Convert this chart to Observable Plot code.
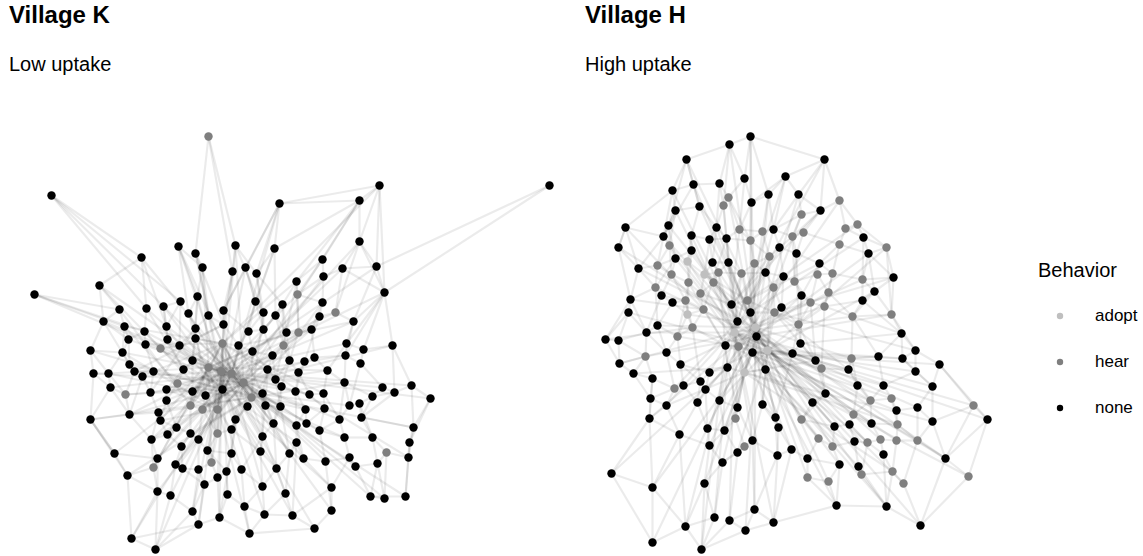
<!DOCTYPE html>
<html><head><meta charset="utf-8">
<script src="https://cdn.jsdelivr.net/npm/d3@7"></script>
<script src="https://cdn.jsdelivr.net/npm/@observablehq/plot@0.6"></script>
<style>
body{margin:0;background:#fff;font-family:"Liberation Sans",Arial,sans-serif;}
#wrap{position:relative;width:1143px;height:556px;overflow:hidden;background:#fff}
.t{position:absolute;font-weight:bold;font-size:24px;line-height:1;color:#000;white-space:nowrap}
.s{position:absolute;font-size:20px;line-height:1;color:#000;white-space:nowrap}
.panel{position:absolute;top:100px}
.lt{position:absolute;font-size:20px;line-height:1;color:#000;left:1038px;top:260px}
.li{position:absolute;left:1054px;height:14px;display:flex;align-items:center}
.li span{font-size:17px;margin-left:29px;color:#000}
</style></head><body>
<div id="wrap">
  <div class="t" style="left:9px;top:3px">Village K</div>
  <div class="s" style="left:9px;top:54px">Low uptake</div>
  <div class="t" style="left:585px;top:3px">Village H</div>
  <div class="s" style="left:585px;top:54px">High uptake</div>
  <div id="pk" class="panel" style="left:0px"></div>
  <div id="ph" class="panel" style="left:575px"></div>
  <div class="lt">Behavior</div>
  <div id="legend"></div>
</div>
<script>
// Behaviour categories and colours
const behaviors = ["adopt", "hear", "none"];
const behaviorColors = ["#bfbfbf", "#7f7f7f", "#000000"];

// Village K: node layout [x, y, behavior] (n = none, h = hear, a = adopt)
const kNodes = [
[208,136,"h"],[51,195,"n"],[279,203,"n"],[178,246,"n"],[195,253,"n"],[235,245,"n"],[274,248,"n"],[141,257,"n"],[202,267,"n"],[245,267,"n"],
[232,271,"n"],[256,273,"n"],[99,285,"n"],[34,294,"n"],[197,296,"n"],[180,301,"n"],[255,301,"n"],[282,304,"n"],[119,309,"n"],[146,308,"n"],
[163,306,"n"],[188,313,"n"],[208,315,"n"],[223,310,"n"],[263,312,"n"],[275,315,"n"],[103,321,"n"],[124,326,"n"],[166,326,"n"],[223,324,"n"],
[144,331,"n"],[195,328,"n"],[248,331,"n"],[263,329,"n"],[286,332,"n"],[128,339,"n"],[167,339,"n"],[195,338,"n"],[549,185,"n"],[379,185,"n"],
[359,200,"n"],[359,241,"n"],[322,259,"n"],[342,268,"n"],[376,266,"n"],[323,276,"n"],[296,281,"n"],[297,294,"h"],[384,292,"n"],[322,302,"n"],
[335,312,"h"],[319,316,"n"],[353,321,"n"],[298,332,"h"],[311,329,"n"],[90,350,"n"],[122,352,"n"],[145,344,"n"],[160,348,"h"],[179,345,"n"],
[222,343,"h"],[238,345,"n"],[252,351,"n"],[283,345,"h"],[272,355,"n"],[289,360,"n"],[93,373,"n"],[108,373,"n"],[129,364,"n"],[134,371,"n"],
[153,371,"n"],[142,376,"n"],[192,360,"n"],[183,369,"n"],[208,367,"h"],[221,371,"h"],[231,373,"h"],[267,369,"n"],[275,379,"n"],[281,386,"n"],
[177,383,"h"],[243,382,"h"],[110,387,"n"],[125,394,"h"],[150,392,"n"],[166,389,"n"],[192,391,"n"],[205,395,"n"],[222,389,"n"],[262,393,"n"],
[251,397,"h"],[166,400,"n"],[190,405,"h"],[202,409,"h"],[217,409,"h"],[247,406,"n"],[265,405,"n"],[280,406,"n"],[90,419,"n"],[129,414,"n"],
[158,412,"n"],[160,420,"n"],[235,419,"n"],[273,423,"n"],[176,427,"n"],[231,429,"n"],[167,434,"n"],[190,433,"n"],[198,439,"n"],[217,433,"h"],
[151,439,"n"],[262,436,"n"],[181,446,"n"],[207,450,"n"],[231,453,"n"],[260,451,"n"],[289,453,"n"],[114,453,"n"],[157,458,"n"],[153,467,"h"],
[211,462,"h"],[175,464,"n"],[182,468,"n"],[198,469,"n"],[226,471,"n"],[241,469,"n"],[276,468,"n"],[127,475,"n"],[217,477,"n"],[204,484,"n"],
[262,486,"n"],[157,491,"n"],[170,495,"n"],[227,494,"n"],[285,493,"n"],[244,506,"n"],[192,511,"n"],[264,514,"n"],[219,517,"n"],[198,524,"n"],
[249,533,"n"],[131,538,"n"],[155,549,"n"],[346,343,"n"],[363,349,"n"],[392,345,"n"],[304,361,"n"],[314,357,"n"],[345,355,"n"],[360,363,"n"],
[327,370,"n"],[298,372,"n"],[344,382,"n"],[382,387,"n"],[411,385,"n"],[394,392,"n"],[430,398,"n"],[295,391,"n"],[309,394,"n"],[323,393,"n"],
[372,396,"n"],[305,409,"n"],[324,408,"n"],[349,405,"n"],[359,403,"n"],[296,425,"n"],[306,423,"n"],[339,419,"n"],[361,417,"n"],[413,427,"n"],
[319,430,"n"],[344,437,"n"],[372,437,"n"],[409,442,"n"],[296,442,"n"],[386,452,"h"],[408,457,"n"],[303,458,"n"],[325,461,"n"],[349,457,"n"],
[355,466,"n"],[377,463,"n"],[331,487,"n"],[370,496,"n"],[384,498,"n"],[405,496,"n"],[331,510,"n"],[292,515,"n"],[314,528,"n"]
];

// Village K: ties (node: neighbours)
const kAdj = [
"0:4,5,10","1:7,19,15","2:6,9,40,11,23","3:8,14,21,60","4:8,22,29,75","5:10,11,24,81","6:11,16,25,76","7:12,19,28","8:14,22,74","9:16,23,33,88",
"10:23,29,60","11:24,33,17","12:18,26,58","13:18,27,30","14:21,31,72","15:20,28,59","16:24,32,76","17:25,34,46,63","18:26,27,57","19:28,30,73",
"20:28,36,74","21:31,37,75","22:29,31,81","23:29,32,88","24:32,33,90","25:33,34,63","26:35,55,68","27:35,56,80","28:36,59,76","29:37,60,61",
"30:35,57,75","31:37,59,87","32:33,61,62","33:64,81","34:53,65,78","35:56,68,74","36:59,73,88","37:72,60,94","38:48,44","39:40,41,44,48,2",
"40:41,42,46,6","41:43,44,48,50","42:45,47,60","43:45,48,50,76","44:48,52,43","45:47,49,81","46:47,53,63","47:49,53,75","48:52,143,144,148","49:51,54,90",
"50:51,52,74","51:54,146,81","52:143,148,61","53:54,65,88","54:147,63,94","55:66,67,56","56:67,68,76","57:58,70,60","58:59,73,88","59:72,74",
"60:61,74,75,76,81,92,109","61:62,76,89","62:64,77,90","63:64,65,81","64:77,78,75","65:78,79,151","66:67,82,98","67:82,83,74","68:69,71,88","69:70,83,81",
"70:71,84,60","71:84,99,75","72:73,86,75","73:80,85,90","74:75,76,86,87,92,120","75:76,88,93,94,102","76:81,88,90,95","77:78,89,96","78:79,97,88","79:97,103,157",
"80:85,91,76","81:89,90,95,105","82:83,98,99","83:99,84,88","84:85,100,81","85:86,91,94","86:87,92,90","87:93,94,109","88:94,102,109,113","89:96,103,111",
"90:95,102,105","91:101,104,76","92:93,107,75","93:108,109,81","94:109,105","95:102,111","96:97,103,115","97:103,116,74","98:117,99,127","99:100,110,88",
"100:101,110,75","101:104,106,60","102:105,114","103:111,116,126","104:106,107,88","105:109,114,115","106:110,112,74","107:108,112,90","108:113,123,76","109:113,120",
"110:118,119,81","111:115,125","112:121,122,88","113:114,120,124","114:124,125","115:126,130","116:126,134,174","117:118,127,98","118:119,131,76","119:127,131,60",
"120:123,128,75","121:122,132,81","122:123,129","123:129,136","124:128,133","125:130,135","126:130,134","127:141,131","128:129,138,88","129:136,139",
"130:137,135","131:132,141,142","132:136,142","133:135,138","134:137,187","135:137,140","136:139,142","137:140,187","138:139,140,75","139:141,142",
"140:188","141:142","143:144,148,150","144:145,149","145:154,155,48","146:147,151,157","147:150,148","148:149,152","149:153,163","150:152,159,81",
"151:157,158","152:160,163,167","153:155,160","154:156,155,169","155:160,168","156:169,173","157:158,161,165","158:159,162","159:162,167","160:164,168",
"161:165,166,88","162:166,170","163:164,167","164:168,172","165:174,177","166:170,76","167:171,170","168:172,169","169:173,176","170:171,178",
"171:172,179","172:175,181","173:176,185","174:177,187","175:176,181,184","176:185","177:178,182","178:179,186","179:180,182","180:181,183",
"181:183,184","182:186,187","183:184,185","186:188","187:188"
];
const kCross = "12-75 26-76 55-88 66-81 98-90 117-75 141-88 142-76 131-81 139-60 140-74 188-75 187-88 186-76 183-81 185-90 176-60 169-88 156-76 154-75 145-81 153-76 44-75 41-88 39-60 2-76 5-88 3-75 7-81 1-76 13-74 40-81 17-88 34-74 48-75 52-76 79-74 116-60 126-74 134-81 137-88 130-60 125-74 115-88 111-75 103-76 97-81 60-88 74-81 75-90 76-87 22-88 29-76 31-81 14-88 37-76 59-81 72-88 86-81 73-60 85-75 80-90 92-81 27-60 30-87 56-94 57-92 67-86 69-29 82-76 84-31 99-62 100-90 101-94 104-81 106-61 110-75 118-88 119-74 121-94 127-90 132-76 133-60 136-75 138-81 143-75 146-88 148-76 150-74 152-90 157-81 158-75 159-60 161-76 163-88 165-81 167-74 170-75 171-90 174-88 177-76 178-81 180-75 182-88 184-76";

// Village H: node layout [x, y, behavior]
const hNodes = [
[750,136,"n"],[729,144,"n"],[686,159,"n"],[824,159,"n"],[785,176,"n"],[693,184,"n"],[719,183,"n"],[744,178,"n"],[672,190,"n"],[768,194,"n"],
[798,194,"n"],[728,197,"h"],[723,205,"h"],[751,202,"n"],[699,206,"n"],[675,210,"n"],[839,200,"h"],[820,210,"n"],[801,214,"h"],[625,227,"n"],
[668,225,"n"],[716,227,"n"],[739,229,"h"],[762,231,"h"],[773,229,"n"],[803,232,"h"],[845,228,"h"],[857,224,"h"],[663,236,"n"],[691,235,"n"],
[709,239,"n"],[726,238,"n"],[750,240,"h"],[792,236,"h"],[863,237,"n"],[618,247,"n"],[669,245,"h"],[691,250,"n"],[779,247,"n"],[796,253,"n"],
[839,244,"h"],[886,247,"h"],[868,253,"n"],[769,256,"h"],[675,258,"n"],[687,261,"a"],[712,262,"n"],[728,262,"n"],[754,263,"h"],[819,263,"n"],
[638,268,"n"],[657,265,"h"],[671,274,"h"],[704,274,"a"],[718,272,"h"],[741,273,"h"],[765,272,"n"],[783,276,"n"],[794,281,"h"],[817,274,"h"],
[832,273,"h"],[862,279,"h"],[893,277,"n"],[688,282,"h"],[655,287,"h"],[661,295,"n"],[700,293,"h"],[713,282,"h"],[773,287,"h"],[630,299,"n"],
[672,302,"n"],[685,300,"h"],[731,304,"n"],[747,300,"h"],[781,307,"n"],[801,295,"n"],[828,292,"h"],[874,291,"n"],[862,300,"n"],[810,302,"h"],
[824,306,"h"],[628,312,"n"],[687,314,"a"],[703,309,"h"],[750,312,"n"],[774,312,"h"],[891,314,"h"],[852,316,"h"],[657,325,"n"],[646,332,"n"],
[737,321,"n"],[734,332,"a"],[755,327,"a"],[756,336,"n"],[798,324,"h"],[901,333,"n"],[605,339,"n"],[618,340,"n"],[692,327,"h"],[677,336,"h"],
[666,352,"n"],[645,356,"h"],[619,363,"n"],[680,364,"n"],[725,345,"n"],[738,346,"h"],[752,352,"n"],[767,350,"a"],[792,353,"n"],[800,343,"n"],
[633,373,"n"],[652,378,"n"],[709,372,"n"],[727,367,"n"],[744,372,"a"],[765,369,"n"],[700,381,"n"],[674,388,"h"],[683,385,"n"],[705,389,"n"],
[650,398,"n"],[666,405,"n"],[697,402,"n"],[719,400,"n"],[737,407,"n"],[762,404,"n"],[649,418,"n"],[735,418,"h"],[775,417,"n"],[679,434,"n"],
[707,428,"n"],[724,430,"n"],[778,427,"n"],[709,445,"n"],[744,446,"h"],[752,440,"n"],[737,452,"n"],[791,449,"n"],[777,455,"n"],[722,462,"n"],
[611,473,"n"],[652,487,"n"],[704,483,"n"],[754,509,"n"],[714,517,"n"],[729,520,"n"],[773,522,"n"],[685,526,"n"],[745,530,"n"],[652,542,"n"],
[701,549,"n"],[815,360,"n"],[851,358,"h"],[878,356,"n"],[902,358,"n"],[915,350,"n"],[939,364,"n"],[821,368,"h"],[848,369,"n"],[915,371,"n"],
[857,385,"n"],[883,385,"n"],[932,386,"n"],[825,393,"n"],[870,400,"h"],[891,398,"h"],[812,402,"n"],[896,410,"n"],[917,407,"n"],[973,405,"h"],
[987,419,"n"],[853,414,"h"],[932,421,"n"],[801,419,"h"],[834,426,"n"],[849,424,"n"],[871,423,"n"],[897,424,"h"],[818,438,"h"],[832,446,"h"],
[854,441,"n"],[867,442,"h"],[880,439,"h"],[896,440,"h"],[917,440,"h"],[807,458,"n"],[883,454,"n"],[945,458,"n"],[839,464,"n"],[858,466,"n"],
[807,477,"h"],[828,481,"h"],[861,474,"h"],[892,471,"h"],[903,483,"h"],[968,476,"h"],[836,505,"n"],[886,506,"n"],[920,525,"n"]
];

// Village H: ties (node: neighbours)
const hAdj = [
"0:1,7,3,13,9","1:2,6,7,12","2:5,8,14,20","3:4,10,17,16","4:9,10,13,24","5:6,8,14,28","6:11,12,21","7:11,13,22","8:15,19,28","9:13,23,24",
"10:17,18,24","11:12,22,32","12:21,31,91","13:22,32,92","14:15,21,29","15:20,28,36","16:17,26,27","17:18,25,33","18:24,33,93","19:35,28,50",
"20:28,36,44","21:30,31,46","22:23,31,32","23:24,32,43","24:33,38,84","25:33,39,40","26:27,34,40","27:34,41","28:36,50,51","29:30,37,45",
"30:31,46,53","31:32,47,90","32:43,48,92","33:38,39,58","34:41,42,61","35:50,19,69","36:44,51,52","37:44,45,63","38:39,43,57","39:49,58,94",
"40:42,60,49","41:42,62,86","42:61,62,77","43:48,56,107","44:51,52,64","45:53,63,91","46:47,54,53","47:54,55,90","48:55,56,84","49:59,60,75",
"50:51,64,69","51:52,64","52:63,65,71","53:54,67,66","54:55,67,91","55:56,72,73","56:57,68,73","57:58,68,74","58:59,75,79","59:60,76,79",
"60:61,76,80","61:62,77,78","62:77,86","63:66,71,82","64:65,69,88","65:70,71,89","66:67,72,83","67:72,90","68:74,85,107","69:81,89,96",
"70:71,82,88","71:82,83,99","72:73,84,90","73:84,85,92","74:85,75,94","75:79,94,109","76:79,80,87","77:78,86,87","78:80,87,95","79:80,94,151",
"80:87,94,157","81:89,96,97","82:83,98,99","83:98,104,91","84:90,92,85","85:94,107,109","86:95,87,155","87:95,152,153","88:89,99,100","89:97,101,100",
"90:91,92,104","91:92,93,105,104,114","92:93,107,106","93:106,105,115","94:108,109,151","95:154,155,153","96:97,102","97:101,102","98:99,104,116","99:100,103",
"100:101,103,117","101:102,110,111","102:110","103:112,118,116","104:105,112,113","105:106,113,114","106:107,114,115","107:108,115,125","108:109,151,128","109:151,157",
"110:111,120","111:117,120,126","112:113,116,119","113:114,123,124","114:115,124,127","115:125,128","116:118,119,122","117:118,121,120","118:121,122","119:122,123,130",
"120:121,126","121:126,129","122:129,130","123:124,131","124:127,131,135","125:128,132,135","126:140,141,129","127:131,134","128:132,138","129:133,141,147",
"130:133,131","131:133,136","132:137,138","133:139,142","134:135,136,139","135:138,143","136:139,145","137:138,146,185","138:143,146","139:142,144",
"140:141,149","141:147,149","142:144,147,150","143:145,146,148","144:147,150","145:148,150","146:148,196","147:149,150","148:150",
"151:157,158,163","152:153,158,160","153:154,161","154:155,159,162","155:156,159","156:162,169,170","157:163,158","158:160,164","159:162,161",
"160:164,171","161:164,165","162:168,172","163:166,173","164:165,171,176","165:167,177","166:173,174","167:168,177","168:172,184","169:170,172,187",
"170:187,195","171:175,176","172:184,187","173:178,174","174:175,179","175:180,181","176:177,182","177:183,184","178:179,185","179:180,188",
"180:189,181","181:182,192","182:183,186","183:184,193","184:187,194","185:190,188","186:193,197","187:195,198","188:191,196","189:192,197",
"190:191,196","191:196","192:193,197","193:194,197","194:198","195:198","196:197","197:198"
];
const hCross = "0-84 1-92 3-73 8-90 19-83 35-90 96-98 140-113 149-92 150-104 198-93 195-115 170-108 156-106 62-85 86-93 95-109 41-107 27-73 16-105 2-55 5-92 20-72 44-91 69-83 81-107 102-91 110-113 126-92 141-106 147-91 144-113 148-93 196-115 197-106 187-92 169-108 162-91 155-85 154-106 34-84 42-93 61-92 77-107 49-73 17-72 10-93 4-90 9-106 23-114 38-91 57-93 187-107 172-114 182-92 189-115 186-106 176-107 164-93 160-91 158-85 153-107 161-105 167-104 185-92 190-93 191-107 146-91 143-92 137-106 132-93 128-91 125-92 112-106 103-92 100-93 88-92 89-91 64-93 50-92 36-106 28-107 15-91 14-92 21-93 30-92 29-91 37-93 46-92 47-93 55-91 56-92 68-91 74-92 75-93 79-91 80-92 87-91 152-92 157-91 163-92 166-91 173-92 174-93 178-91 179-92 180-93 171-91 11-84 22-72 31-83 48-90 66-105 67-84 53-73 54-113 43-72 63-104 71-98 82-90 99-105 117-90 118-84 119-93 121-114 122-92 123-107 124-91 130-92 131-93 133-106 135-91 136-107 139-92 142-106 145-91 151-114 159-107 165-106 168-93 177-114 181-92 183-107 184-91 188-106 192-92 193-114 194-93";

const names = {n: "none", h: "hear", a: "adopt"};

function buildLinks(nodes, adj, cross) {
  const pairs = [];
  adj.forEach(s => {
    const [a, rest] = s.split(":");
    rest.split(",").forEach(b => pairs.push([+a, +b]));
  });
  cross.split(" ").forEach(p => { const [a, b] = p.split("-"); pairs.push([+a, +b]); });
  return pairs.filter(([a, b]) => a !== b && nodes[a] && nodes[b])
    .map(([a, b]) => ({x1: nodes[a][0], y1: nodes[a][1], x2: nodes[b][0], y2: nodes[b][1]}));
}

function drawPanel(nodes, adj, cross, x0, x1, target) {
  const links = buildLinks(nodes, adj, cross);
  const pts = nodes.map(([x, y, b]) => ({x, y, behavior: names[b]}));
  const w = x1 - x0;
  const chart = Plot.plot({
    width: w, height: 456,
    marginTop: 0, marginBottom: 0, marginLeft: 0, marginRight: 0,
    x: {domain: [x0, x1], range: [0, w], axis: null},
    y: {domain: [100, 556], range: [0, 456], axis: null},
    color: {domain: behaviors, range: behaviorColors},
    marks: [
      Plot.link(links, {x1: "x1", y1: "y1", x2: "x2", y2: "y2", stroke: "#000", strokeOpacity: 0.08, strokeWidth: 2.2}),
      Plot.dot(pts, {x: "x", y: "y", r: 4.2, fill: "behavior", stroke: null})
    ]
  });
  document.getElementById(target).appendChild(chart);
}

drawPanel(kNodes, kAdj, kCross, 0, 570, "pk");
drawPanel(hNodes, hAdj, hCross, 575, 1000, "ph");

// Legend
const legendY = [316, 362, 408];
const leg = document.getElementById("legend");
behaviors.forEach((b, i) => {
  const d = document.createElement("div");
  d.className = "li";
  d.style.top = (legendY[i] - 7) + "px";
  d.innerHTML = `<svg width="12" height="12"><circle cx="6" cy="6" r="3.2" fill="${behaviorColors[i]}"/></svg><span>${b}</span>`;
  leg.appendChild(d);
});
</script>
</body></html>
